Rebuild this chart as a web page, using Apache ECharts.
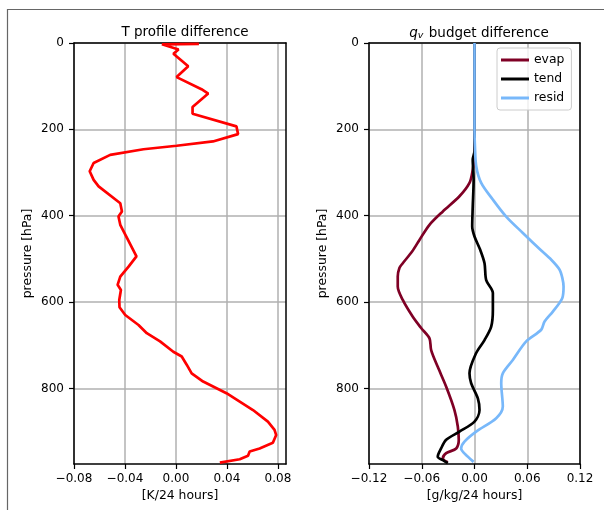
<!DOCTYPE html>
<html>
<head>
<meta charset="utf-8">
<script src="https://cdn.jsdelivr.net/npm/echarts@6/dist/echarts.min.js"></script>
<style>
html,body{margin:0;padding:0;background:#fff;}
#chart{width:604px;height:510px;}
</style>
</head>
<body>
<div id="chart"></div>
<script>
// ---- data ----
var tPressure = [2,3,15,25,54,79,107,117,148,164,193,211,228,238,246,259,278,297,317,332,371,390,402,421,494,518,541,560,572,595,612,630,653,672,691,715,726,745,765,784,811,850,877,896,908,926,939,946,956,964,972];
var tValues   = [0.018,-0.011,0.002,-0.002,0.0096,0.0005,0.020,0.0253,0.013,0.013,0.0474,0.0487,0.029,0.0005,-0.0255,-0.0516,-0.0646,-0.0677,-0.0646,-0.0607,-0.0437,-0.0424,-0.0451,-0.0437,-0.031,-0.0372,-0.0437,-0.0458,-0.0432,-0.0445,-0.0443,-0.0398,-0.0294,-0.0229,-0.0125,-0.0021,0.0045,0.0084,0.0123,0.0213,0.0396,0.0604,0.0721,0.0773,0.0786,0.076,0.0656,0.0578,0.0565,0.05,0.0344];

var evapPressure = [0,250,270,294,324,355,390,421,456,483,510,521,541,564,595,634,660,684,711,750,796,850,888,919,939,950,962,971];
var evapValues   = [0,0,-0.0005,-0.002,-0.0057,-0.0171,-0.036,-0.0512,-0.0626,-0.071,-0.0816,-0.0854,-0.0873,-0.0873,-0.0816,-0.0702,-0.0607,-0.0512,-0.0493,-0.0418,-0.0322,-0.0228,-0.019,-0.0179,-0.0208,-0.0322,-0.036,-0.0304];

var tendPressure = [0,250,270,317,379,425,448,479,510,549,579,618,657,688,718,765,788,823,850,877,900,919,939,958,966,973];
var tendValues   = [0,0,-0.002,-0.001,-0.002,-0.0026,0,0.0065,0.0114,0.0133,0.0209,0.0209,0.019,0.0114,0.0019,-0.0057,-0.0038,0.0038,0.0057,0,-0.0171,-0.0322,-0.038,-0.0418,-0.036,-0.0304];

var residPressure = [0,100,200,240,286,324,363,402,440,479,502,525,545,564,591,622,645,664,691,734,765,788,842,869,900,923,939,958,970];
var residValues   = [0,0,0,0.0005,0.002,0.0076,0.021,0.036,0.055,0.075,0.0873,0.0968,0.100,0.1013,0.0998,0.0891,0.0797,0.0759,0.0588,0.0436,0.0322,0.0304,0.0322,0.0247,0.0019,-0.0114,-0.0152,-0.0076,-0.001];

var pressureTicks = [0,200,400,600,800];
var tTicks = [-0.08,-0.04,0,0.04,0.08];
var qTicks = [-0.12,-0.06,0,0.06,0.12];

function pairs(xs, ps){ return xs.map(function(v,i){ return [v, ps[i]]; }); }
function fmt(v){ return (v < 0 ? '\u2212' : '') + Math.abs(v).toFixed(2); }

var FONT = 'DejaVu Sans';
var TICKFS = 12;
var NAMEFS = 12.4;
var gridLine = {show:true, lineStyle:{color:'#b0b0b0', width:1.5}};
function bottomX(grid, min, max, ticks, name){
  return {
    type:'value', gridIndex:grid, position:'bottom', min:min, max:max,
    axisLine:{show:true, onZero:false, lineStyle:{color:'#000', width:1.5}},
    axisTick:{show:true, length:5, lineStyle:{color:'#000', width:1.2}, customValues:ticks},
    axisLabel:{show:true, margin:9, color:'#000', fontSize:TICKFS, fontFamily:FONT, customValues:ticks, formatter:fmt},
    splitLine:gridLine,
    name:name, nameLocation:'middle', nameGap:26,
    nameTextStyle:{color:'#000', fontSize:NAMEFS, fontFamily:FONT}
  };
}
function topX(grid, min, max){
  return {type:'value', gridIndex:grid, position:'top', min:min, max:max,
    axisLine:{show:true, onZero:false, lineStyle:{color:'#000', width:1.5}},
    axisTick:{show:false}, axisLabel:{show:false}, splitLine:{show:false}};
}
function leftY(grid){
  return {
    type:'value', gridIndex:grid, position:'left', inverse:true, min:0, max:975,
    axisLine:{show:true, onZero:false, lineStyle:{color:'#000', width:1.5}},
    axisTick:{show:true, length:5, lineStyle:{color:'#000', width:1.2}, customValues:pressureTicks},
    axisLabel:{show:true, margin:10, color:'#000', fontSize:TICKFS, fontFamily:FONT, customValues:pressureTicks},
    splitLine:gridLine,
    name:'pressure [hPa]', nameLocation:'middle', nameGap:40, nameRotate:90,
    nameTextStyle:{color:'#000', fontSize:NAMEFS, fontFamily:FONT}
  };
}
function rightY(grid){
  return {type:'value', gridIndex:grid, position:'right', inverse:true, min:0, max:975,
    axisLine:{show:true, onZero:false, lineStyle:{color:'#000', width:1.5}},
    axisTick:{show:false}, axisLabel:{show:false}, splitLine:{show:false}};
}

var chart = echarts.init(document.getElementById('chart'), null, {renderer:'canvas'});
chart.setOption({
  animation:false,
  backgroundColor:'#fff',
  textStyle:{fontFamily:FONT},
  graphic:[{type:'rect', silent:true, z:-10,
    shape:{x:7.5, y:9.5, width:800, height:800},
    style:{fill:'none', stroke:'#666', lineWidth:1.2}}],
  title:[
    {text:'T profile difference', left:180, top:20, textAlign:'center',
     textStyle:{fontSize:13.5, fontWeight:'normal', color:'#000', fontFamily:FONT}},
    {text:'{q|q}{v|v} budget difference', left:474, top:20, textAlign:'center',
     textStyle:{fontSize:13.5, fontWeight:'normal', color:'#000', fontFamily:FONT,
       rich:{q:{fontStyle:'italic', fontSize:13.5, fontFamily:FONT, color:'#000'},
             v:{fontStyle:'italic', fontSize:9.5, fontFamily:FONT, color:'#000', padding:[6,1,0,0]}}}}
  ],
  legend:{
    data:['evap','tend','resid'], orient:'vertical', left:497, top:48,
    icon:'rect', itemWidth:28, itemHeight:3, itemGap:5,
    backgroundColor:'rgba(255,255,255,0.8)', borderColor:'#cccccc', borderWidth:1, borderRadius:3,
    padding:[5,7,5,4],
    textStyle:{fontSize:12.4, lineHeight:14, color:'#000', fontFamily:FONT}
  },
  grid:[
    {left:74, top:43, width:212, height:421},
    {left:369, top:43, width:211, height:421}
  ],
  xAxis:[
    bottomX(0, -0.08, 0.0863, tTicks, '[K/24 hours]'),
    topX(0, -0.08, 0.0863),
    bottomX(1, -0.12, 0.12, qTicks, '[g/kg/24 hours]'),
    topX(1, -0.12, 0.12)
  ],
  yAxis:[leftY(0), rightY(0), leftY(1), rightY(1)],
  series:[
    {type:'line', name:'T', xAxisIndex:0, yAxisIndex:0, data:pairs(tValues,tPressure),
     showSymbol:false, lineStyle:{color:'#ff0000', width:2.7}, itemStyle:{color:'#ff0000'}},
    {type:'line', name:'evap', xAxisIndex:2, yAxisIndex:2, data:pairs(evapValues,evapPressure),
     showSymbol:false, smooth:0.3, lineStyle:{color:'#7f0025', width:2.7}, itemStyle:{color:'#7f0025'}},
    {type:'line', name:'tend', xAxisIndex:2, yAxisIndex:2, data:pairs(tendValues,tendPressure),
     showSymbol:false, smooth:0.3, lineStyle:{color:'#000000', width:2.7}, itemStyle:{color:'#000000'}},
    {type:'line', name:'resid', xAxisIndex:2, yAxisIndex:2, data:pairs(residValues,residPressure),
     showSymbol:false, smooth:0.3, lineStyle:{color:'#78b8fa', width:2.7}, itemStyle:{color:'#78b8fa'}}
  ]
});
</script>
</body>
</html>
